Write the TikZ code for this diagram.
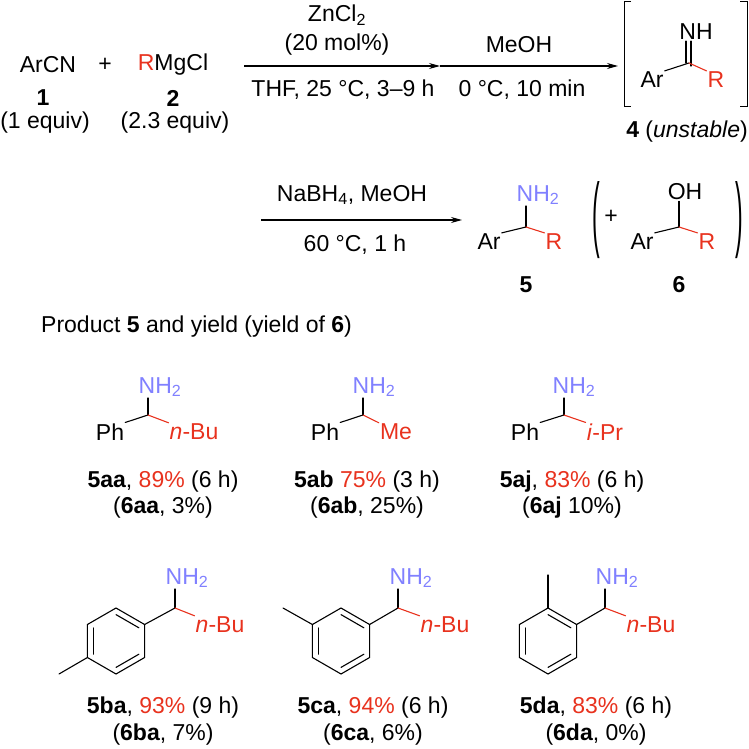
\documentclass[tikz,border=0pt]{standalone}
\usepackage{fontspec}
\setmainfont{Liberation Sans}
\usetikzlibrary{arrows.meta,calc}
\definecolor{rd}{HTML}{E8321E}
\definecolor{bl}{HTML}{8080FF}
\newcommand{\mysb}[1]{\textsubscript{#1}}
\begin{document}
\begin{tikzpicture}[x=1pt,y=-1pt,
  every node/.style={font=\fontsize{23}{26}\selectfont,inner sep=1pt},
  bond/.style={line width=1.1pt,line cap=round},
  rbond/.style={bond,draw=rd},
  rxn/.style={line width=1.2pt,-{Stealth[length=11pt,width=6pt]}}]
\useasboundingbox (0,0) rectangle (748,749);
% row 1
\node (arcn) at (48,65) {ArCN};
\node (plus1) at (105,65) {+};
\node (rmg) at (173,65) {\textcolor{rd}{R}MgCl};
\node (n1) at (43,98) {\textbf{1}};
\node (n2) at (173,98) {\textbf{2}};
\node (e1) at (45,123) {(1 equiv)};
\node (e2) at (175,123) {(2.3 equiv)};
\coordinate (a1s) at (244,66);
\coordinate (a1e) at (440,66);
\coordinate (a2e) at (618,66);
\draw[rxn] (a1s) -- (a1e);
\draw[rxn] (a1e) -- (a2e);
\node (zn) at (337,15) {ZnCl\mysb{2}};
\node (mol) at (337,45) {(20 mol\%)};
\node (thf) at (343,90) {THF, 25 °C, 3–9 h};
\node (meoh) at (519,45) {MeOH};
\node (zero) at (522,90) {0 °C, 10 min};
% bracket
\draw[line width=1pt] (631,2) -- (624,2) -- (624,107) -- (631,107);
\draw[line width=1pt] (740,2) -- (747,2) -- (747,107) -- (740,107);
\node (nh) at (696,32) {NH};
\coordinate (c4) at (689,63);
\node (ar4) at (652,80) {Ar};
\node[text=rd] (r4) at (716,80) {R};
\draw[bond] ([xshift=-10pt]nh.south) -- ([xshift=-10pt]nh.south |- c4);
\draw[bond] ([xshift=-5pt]nh.south) -- ([xshift=-5pt,yshift=-3pt]nh.south |- c4);
\draw[bond] (ar4.north east) -- (c4);
\draw[rbond] (c4) -- (r4.north west);
\node (n4) at (687,132) {\textbf{4} (\textit{unstable})};
% row 2
\coordinate (b1s) at (261,220);
\coordinate (b1e) at (462,220);
\draw[rxn] (b1s) -- (b1e);
\node (nab) at (352,195) {NaBH\mysb{4}, MeOH};
\node (sixty) at (355,245) {60 °C, 1 h};
\node[text=bl] (nh5) at (538,195) {NH\mysb{2}};
\coordinate (c5) at (526,227);
\node (ar5) at (489,242) {Ar};
\node[text=rd] (r5) at (554,242) {R};
\draw[bond] (c5) -- (c5 |- nh5.south);
\draw[bond] (ar5.north east) -- (c5);
\draw[rbond] (c5) -- (r5.north west);
\node (n5) at (526,285) {\textbf{5}};
\node (lp) at (596,220) {\scalebox{1}[3.6]{(}};
\node (rp) at (739,220) {\scalebox{1}[3.6]{)}};
\node (plus2) at (611,217) {+};
\node (oh) at (685,192) {OH};
\coordinate (c6) at (679,227);
\node (ar6) at (642,242) {Ar};
\node[text=rd] (r6) at (707,242) {R};
\draw[bond] (c6) -- (c6 |- oh.south);
\draw[bond] (ar6.north east) -- (c6);
\draw[rbond] (c6) -- (r6.north west);
\node (n6) at (679,285) {\textbf{6}};
\node[anchor=west] (prod) at (40,327) {Product \textbf{5} and yield (yield of \textbf{6})};
% row 3 molecules
\foreach \nm/\cx/\nx/\px/\rx/\rt in {aa/148/160/110/194/{\textit{n}-Bu}, ab/363/374/325/396/{Me}, aj/564/574/525/605/{\textit{i}-Pr}}{
  \coordinate (c\nm) at (\cx,415);
  \node[text=bl] (nh\nm) at (\nx,387) {NH\mysb{2}};
  \node (ph\nm) at (\px,432) {Ph};
  \node[text=rd] (r\nm) at (\rx,432) {\rt};
  \draw[bond] (c\nm) -- (c\nm |- nh\nm.south);
  \draw[bond] (ph\nm.north east) -- (c\nm);
  \draw[rbond] (c\nm) -- (r\nm.north west);
}
\node (l1a) at (163,482) {\textbf{5aa}, \textcolor{rd}{89\%} (6 h)};
\node (l1b) at (163,508) {(\textbf{6aa}, 3\%)};
\node (l2a) at (367,482) {\textbf{5ab} \textcolor{rd}{75\%} (3 h)};
\node (l2b) at (367,508) {(\textbf{6ab}, 25\%)};
\node (l3a) at (572,482) {\textbf{5aj}, \textcolor{rd}{83\%} (6 h)};
\node (l3b) at (572,508) {(\textbf{6aj} 10\%)};
% row 4 aryl amines
\foreach \nm/\rx/\cx/\nx/\bx in {ba/116/175/187/220, ca/341/398/411/445, da/548/605/617/651}{
  \coordinate (o\nm) at (\rx,641);
  \coordinate (v1\nm) at ($(o\nm)+(0,-33)$);
  \coordinate (v2\nm) at ($(o\nm)+(28.6,-16.5)$);
  \coordinate (v3\nm) at ($(o\nm)+(28.6,16.5)$);
  \coordinate (v4\nm) at ($(o\nm)+(0,33)$);
  \coordinate (v5\nm) at ($(o\nm)+(-28.6,16.5)$);
  \coordinate (v6\nm) at ($(o\nm)+(-28.6,-16.5)$);
  \draw[bond] (v1\nm) -- (v2\nm) -- (v3\nm) -- (v4\nm) -- (v5\nm) -- (v6\nm) -- cycle;
  \draw[bond] ($(o\nm)!0.8!(v6\nm)$) -- ($(o\nm)!0.8!(v5\nm)$);
  \draw[bond] ($(o\nm)!0.8!(v1\nm)$) -- ($(o\nm)!0.8!(v2\nm)$);
  \draw[bond] ($(o\nm)!0.8!(v3\nm)$) -- ($(o\nm)!0.8!(v4\nm)$);
  \coordinate (c\nm) at (\cx,608);
  \node[text=bl] (nh\nm) at (\nx,578) {NH\mysb{2}};
  \node[text=rd] (r\nm) at (\bx,625) {\textit{n}-Bu};
  \draw[bond] (c\nm) -- (c\nm |- nh\nm.south);
  \draw[bond] (v2\nm) -- (c\nm);
  \draw[rbond] (c\nm) -- (r\nm.north west);
}
\coordinate (meba) at (59,674);
\coordinate (meca) at (283,608);
\coordinate (meda) at (548,575);
\draw[bond] (v5ba) -- (meba);
\draw[bond] (v6ca) -- (meca);
\draw[bond] (v1da) -- (meda);
\node (l4a) at (163,708) {\textbf{5ba}, \textcolor{rd}{93\%} (9 h)};
\node (l4b) at (163,735) {(\textbf{6ba}, 7\%)};
\node (l5a) at (373,708) {\textbf{5ca}, \textcolor{rd}{94\%} (6 h)};
\node (l5b) at (373,735) {(\textbf{6ca}, 6\%)};
\node (l6a) at (596,708) {\textbf{5da}, \textcolor{rd}{83\%} (6 h)};
\node (l6b) at (596,735) {(\textbf{6da}, 0\%)};
\end{tikzpicture}
\end{document}
